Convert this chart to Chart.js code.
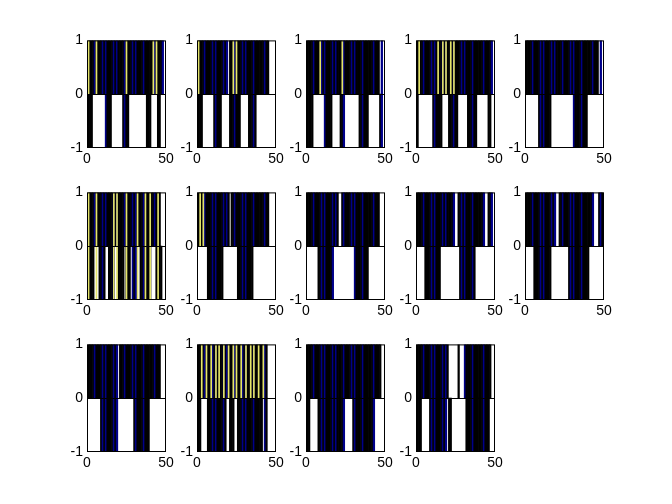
<!DOCTYPE html>
<html>
<head>
<meta charset="utf-8">
<script src="https://cdn.jsdelivr.net/npm/chart.js@4.4.1/dist/chart.umd.min.js"></script>
<style>
body { margin: 0; background: #fff; width: 672px; height: 504px; position: relative; overflow: hidden; }
canvas { position: absolute; }
</style>
</head>
<body>
<script>
// 14 panels, 49 bars each; '1' = bar drawn in that half
const xTicks = [0, 50];
const yTicks = [-1, 0, 1];

const upper = [
    '111111111111111111111111111111111111111111111111 0',
    '1111111111111111111 0 1111111111111111111111111 0000',
    '1111111111111111111111111111111111111111111111 0 1 0',
    '111111111111111111111111111111111111111111111111 0',
    '1111111111111111111111111111111111111111111111 0 1 0',
    '1111111111111111111111111111111111111111111111 000',
    '11111111111111111111 0 111111111111111111111111 0000',
    '11111111111111111111 00 111111111111111111111111 000',
    '111111111111111111111111 00 11111111111111111 00 111 0',
    '1111111111111111111 00 1111111111111111111111 000 111',
    '1111111111111111111 0 11111111111111111111111111 000',
    '11111111111111111111111111111111111111111111 00000',
    '11111111111111111111111111111111111111111111111 00',
    '11111111111111111111 000000 1 000 11111111111111111 00'
];

const lower = [
    '111 00000000 1111 0000000 1111 00000000000 111 0000 11 000',
    '111 0000000 11111 00000 1111111 00000 11111 000000000000',
    '1111 0000000 11111 00000 111 000000000 111111 0000000 11 0',
    '1 000000000 111111 0000 111111 000000 111111 0000000 11 00',
    '00000000 11111111 00000000000000 111111111 0000000000',
    '1111 000 1111 00 1111 00 1111 0 111 0 111 00 1111111 000 1111 00',
    '000000 1111111111 000000000 1111111111 00000000000000',
    '0000000 1111111111 0000000000000 111111111 0000000000',
    '00000 1111111111 000000000000 1111111111 000000000000',
    '00000 11111111111 00000000000 1111111111111 000000000',
    '00000000 11111111111 0000000000 1111111111 0000000000',
    '11 0000 111111111111 00 111 00 1111111111111111 0 11 00000',
    '11 00000 11111111111111111 00000 11111111111111 000000',
    '111 00000 11111111111 0 11 000000000 111111111111111 000'
];

// thin yellow stripes seen in some panels
const yellow = [
    [1, 6, 25, 42, 44],
    [1, 23, 25],
    [9, 23],
    [2, 14, 17, 19, 22, 24],
    [],
    [1, 6, 17, 19, 25, 32, 37, 40, 45],
    [2, 4],
    [], [], [], [],
    [3, 6, 9, 12, 14, 17, 20, 23, 25, 28, 31, 34, 36, 39, 42],
    [], []
];
const yellowLow = [0, 0, 0, 0, 0, -1, 0, 0, 0, 0, 0, 0, 0, 0];

const colLeft = [87, 197, 306, 416, 525];
const rowTop = [38, 190, 342];
const plotW = 79, plotH = 110;
const padL = 26, padT = 10, padR = 12, padB = 22;

function bits(s) {
    return s.replace(/ /g, '').split('').map(Number);
}

// thin bars: black edges swallow the face, blue only shows where a bar lands on a whole pixel
function barColor(ctx) {
    if (!ctx.raw) return '#000';
    const left = ctx.chart.scales.x.getPixelForValue(ctx.raw.x - 0.5);
    const f = left - Math.floor(left);
    return f < 0.25 ? '#00008a' : '#000';
}

const framePlugin = {
    id: 'frame',
    afterDatasetsDraw(chart) {
        const ctx = chart.ctx, a = chart.chartArea;
        const y0 = Math.round(chart.scales.y.getPixelForValue(0)) + 0.5;
        ctx.save();
        ctx.strokeStyle = '#000';
        ctx.lineWidth = 1;
        ctx.beginPath();
        ctx.moveTo(a.left, y0);
        ctx.lineTo(a.right, y0);
        ctx.stroke();
        ctx.strokeRect(a.left + 0.5, a.top + 0.5, a.width - 1, a.height - 1);
        ctx.restore();
    }
};

const tickFont = { family: 'Liberation Sans, Arial, sans-serif', size: 14 };

for (let p = 0; p < 14; p++) {
    const col = p % 5, row = Math.floor(p / 5);
    const cv = document.createElement('canvas');
    cv.width = padL + plotW + padR;
    cv.height = padT + plotH + padB;
    cv.style.left = (colLeft[col] - padL) + 'px';
    cv.style.top = (rowTop[row] - padT) + 'px';
    document.body.appendChild(cv);

    const up = bits(upper[p]).map((v, i) => ({ x: i + 1, y: v ? 1 : null }));
    const dn = bits(lower[p]).map((v, i) => ({ x: i + 1, y: v ? -1 : null }));
    const ye = yellow[p].map(i => ({ x: i, y: [yellowLow[p], 1] }));

    new Chart(cv, {
        type: 'bar',
        data: {
            datasets: [
                { data: ye, backgroundColor: '#e4e46a', borderWidth: 0, barThickness: 1 },
                { data: up, backgroundColor: barColor },
                { data: dn, backgroundColor: barColor }
            ]
        },
        options: {
            responsive: false,
            animation: false,
            events: [],
            layout: { padding: { left: 0, top: padT, right: padR, bottom: 0 } },
            datasets: {
                bar: {
                    grouped: false,
                    barPercentage: 1,
                    categoryPercentage: 1,
                    borderWidth: 0
                }
            },
            plugins: { legend: { display: false }, tooltip: { enabled: false } },
            scales: {
                x: {
                    type: 'linear',
                    min: 0, max: 50,
                    offset: false,
                    grid: { display: false, drawTicks: false },
                    border: { display: false },
                    afterBuildTicks: s => { s.ticks = xTicks.map(v => ({ value: v })); },
                    afterFit: s => { s.height = padB; },
                    ticks: { color: '#000', font: tickFont, padding: 3, maxRotation: 0 }
                },
                y: {
                    min: -1, max: 1,
                    grid: { display: false, drawTicks: false },
                    border: { display: false },
                    afterBuildTicks: s => { s.ticks = yTicks.map(v => ({ value: v })); },
                    afterFit: s => { s.width = padL; },
                    ticks: { color: '#000', font: tickFont, padding: 4 }
                }
            }
        },
        plugins: [framePlugin]
    });
}
</script>
</body>
</html>
